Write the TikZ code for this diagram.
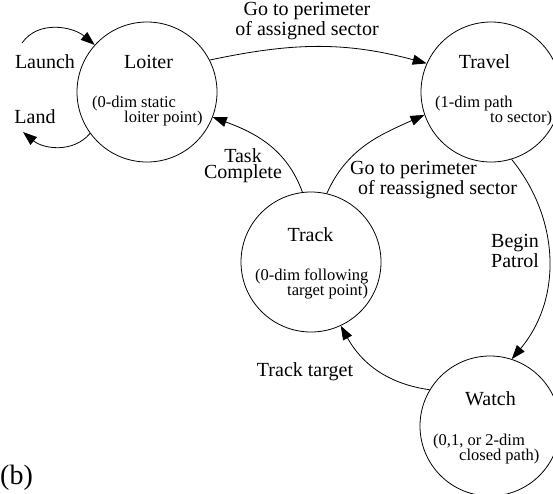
\documentclass[tikz,border=0pt]{standalone}
\usepackage{fontspec}
\setmainfont{Liberation Serif}
\usetikzlibrary{arrows.meta}
\begin{document}
\begin{tikzpicture}[x=1pt,y=1pt,
  state/.style={draw,circle,minimum size=140pt,inner sep=0pt,line width=0.8pt},
  title/.style={font=\fontsize{20}{20}\selectfont,anchor=base,inner sep=0pt},
  detail/.style={font=\fontsize{16.5}{15}\selectfont,anchor=base west,inner sep=0pt},
  lbl/.style={font=\fontsize{20}{16}\selectfont,anchor=base,inner sep=0pt},
  lblc/.style={lbl,align=center},
  lbll/.style={lbl,align=left,anchor=base west},
  edge/.style={line width=0.8pt,-{Triangle[length=14pt,width=10pt]}}]
\useasboundingbox (0,0) rectangle (553,-493);

% states
\node[state] (loiter) at (147,-92) {};
\node[state] (travel) at (491,-92) {};
\node[state] (track)  at (311,-262) {};
\node[state] (watch)  at (490,-426) {};

% state titles and descriptions
\node[title] (loiterT) at (148.5,-68) {Loiter};
\node[detail] (loiterA) at (92,-107) {(0-dim static};
\node[detail] (loiterB) at (124,-122) {loiter point)};

\node[title] (travelT) at (484.5,-68) {Travel};
\node[detail] (travelA) at (435,-107) {(1-dim path};
\node[detail] (travelB) at (490,-122) {to sector)};

\node[title] (trackT) at (310.5,-241) {Track};
\node[detail] (trackA) at (255,-280) {(0-dim following};
\node[detail] (trackB) at (287,-295) {target point)};

\node[title] (watchT) at (490.5,-405) {Watch};
\node[detail] (watchA) at (433,-445) {(0,1, or 2-dim};
\node[detail] (watchB) at (459,-460) {closed path)};

% free ends of launch and land
\coordinate (launchStart) at (22,-43);
\coordinate (landEnd) at (23,-132);

% transitions
\draw[edge] (launchStart) to[out=55,in=140] (loiter.138);
\draw[edge] (loiter.216) to[out=230,in=-40] (landEnd);
\draw[edge] (loiter.27) to[out=12,in=165] (travel.156);
\draw[edge] (track.97) to[out=110,in=-20] (loiter.339);
\draw[edge] (track.77) to[out=66,in=204] (travel.199);
\draw[edge] (travel.287) to[out=-51,in=50] (watch.72);
\draw[edge] (watch.149) to[out=172,in=-61] (track.295);

% transition labels (base anchor sits on the last line)
\node[lbl] (launchL) at (45,-68) {Launch};
\node[lbl] (landL) at (35,-123) {Land};
\node[lblc,font=\fontsize{20}{14}\selectfont] (assignL) at (307,-35) {Go to perimeter\\of assigned sector};
\node[lblc] (taskL) at (243,-178) {Task\\Complete};
\node[lbll] (reassignL) at (350,-194) {Go to perimeter\\\hspace*{8pt}of reassigned sector};
\node[lbll] (patrolL) at (491,-267) {Begin\\Patrol};
\node[lbl] (trackL) at (305,-376) {Track target};

% panel tag
\node[font=\fontsize{28}{28}\selectfont,anchor=base west,inner sep=0pt] (tag) at (0,-484) {(b)};
\end{tikzpicture}
\end{document}
